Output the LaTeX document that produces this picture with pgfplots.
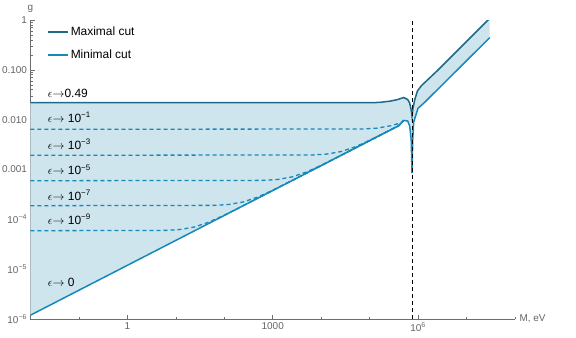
\documentclass[border=0pt]{standalone}
\usepackage{fontspec}
\setmainfont{Liberation Sans}
\usepackage{pgfplots}
\pgfplotsset{compat=1.18}

\definecolor{maxc}{RGB}{30,105,135}
\definecolor{minc}{RGB}{22,136,186}
\definecolor{bandc}{RGB}{206,229,238}
\definecolor{axc}{RGB}{110,110,110}
\definecolor{tickc}{RGB}{100,100,100}

\begin{document}
\begin{tikzpicture}
\begin{loglogaxis}[
    at={(30.5bp,18.9bp)}, anchor=south west,
    scale only axis, width=484.5bp, height=299.1bp,
    xmin=1e-2, xmax=1e8, ymin=1e-6, ymax=1,
    axis lines=left,
    axis line style={-, axc, line width=0.8bp},
    tick align=inside,
    major tick length=4.5bp, minor tick length=2.5bp,
    tick style={axc, line width=0.6bp},
    xtick={1,1e3,1e6},
    xticklabels={1,1000,10\textsuperscript{6}},
    minor xtick={1e-2,1e-1,1e1,1e2,1e4,1e5,1e7,1e8},
    ytick={1e-6,1e-5,1e-4,1e-3,1e-2,1e-1,1},
    yticklabels={10\textsuperscript{−6},10\textsuperscript{−5},10\textsuperscript{−4},0.001,0.010,0.100,1},
    minor ytick={2e-6,3e-6,4e-6,5e-6,6e-6,7e-6,8e-6,9e-6,
                 2e-5,3e-5,4e-5,5e-5,6e-5,7e-5,8e-5,9e-5,
                 2e-4,3e-4,4e-4,5e-4,6e-4,7e-4,8e-4,9e-4,
                 2e-3,3e-3,4e-3,5e-3,6e-3,7e-3,8e-3,9e-3,
                 2e-2,3e-2,4e-2,5e-2,6e-2,7e-2,8e-2,9e-2,
                 0.2,0.3,0.4,0.5,0.6,0.7,0.8,0.9},
    ticklabel style={font=\fontsize{10}{12}\selectfont, text=tickc},
    xlabel={M, eV}, ylabel={g},
    xlabel style={at={(axis description cs:1,0)}, anchor=west, xshift=1bp,
        font=\fontsize{10}{12}\selectfont, text=tickc},
    ylabel style={at={(axis description cs:0,1)}, anchor=south, rotate=-90, yshift=4bp,
        font=\fontsize{10}{12}\selectfont, text=tickc},
    legend style={at={(axis description cs:0.028,0.988)}, anchor=north west,
        draw=none, fill=none, font=\fontsize{12}{14}\selectfont,
        row sep=9bp, nodes={inner sep=1.5bp}},
    legend cell align=left,
    legend image code/.code={\draw[#1, line width=2bp] (0bp,0bp) -- (20bp,0bp);},
]

% band between the two cuts
\addplot[fill=bandc, draw=none, forget plot] coordinates {
    (1e-2,2.193e-2) (1e5,2.193e-2) (1.611e5,2.223e-2) (2.594e5,2.350e-2)
    (3.614e5,2.506e-2) (5.047e5,2.786e-2) (6.095e5,2.541e-2) (6.699e5,2.163e-2)
    (7.211e5,1.566e-2) (7.482e5,1.186e-2) (7.852e5,1.718e-2) (8.511e5,2.483e-2)
    (9.683e5,3.767e-2) (1.169e6,4.808e-2) (2.576e6,9.931e-2) (2.773e7,1.0)
    (3.006e7,1.081)
    (3.006e7,0.4416) (1.368e6,2.234e-2) (9.954e5,1.694e-2)
    (8.110e5,8.995e-3) (7.745e5,3.917e-3) (7.482e5,8.53e-4) (7.211e5,3.917e-3)
    (6.699e5,7.48e-3) (6.095e5,9.419e-3) (5.047e5,9.638e-3) (3.981e5,7.57e-3)
    (1e-2,1.2e-6)
} -- cycle;

% intermediate cuts
\addplot[minc, line width=1.3bp, dash pattern=on 4bp off 3bp, forget plot] coordinates {
    (1e-2,6.412e-3) (7.178e4,6.510e-3) (1.432e5,6.781e-3) (2.858e5,7.626e-3)
    (4.529e5,8.777e-3) (5.047e5,9.638e-3)
};
\addplot[minc, line width=1.3bp, dash pattern=on 4bp off 3bp, forget plot] coordinates {
    (1e-2,1.932e-3) (6516,1.962e-3) (1.300e4,2.043e-3) (2.594e4,2.298e-3)
    (5.176e4,2.886e-3) (1.033e5,3.914e-3) (2.594e5,6.125e-3) (3.981e5,7.60e-3)
    (5.047e5,9.638e-3)
};
\addplot[minc, line width=1.3bp, dash pattern=on 4bp off 3bp, forget plot] coordinates {
    (1e-2,5.970e-4) (622.3,6.062e-4) (1242,6.314e-4) (2477,7.101e-4)
    (4943,8.918e-4) (9863,1.210e-3) (2.477e4,1.893e-3) (3.981e5,7.60e-3)
    (5.047e5,9.638e-3)
};
\addplot[minc, line width=1.3bp, dash pattern=on 4bp off 3bp, forget plot] coordinates {
    (1e-2,1.884e-4) (61.94,1.912e-4) (123.6,1.992e-4) (246.6,2.240e-4)
    (492.0,2.813e-4) (981.7,3.817e-4) (2466,5.972e-4) (3.981e5,7.60e-3)
    (5.047e5,9.638e-3)
};
\addplot[minc, line width=1.3bp, dash pattern=on 4bp off 3bp, forget plot] coordinates {
    (1e-2,5.929e-5) (6.138,6.020e-5) (12.25,6.270e-5) (24.43,7.053e-5)
    (48.75,8.856e-5) (97.27,1.201e-4) (244.3,1.880e-4) (3.981e5,7.60e-3)
    (5.047e5,9.638e-3)
};

% maximal cut
\addplot[maxc, line width=1.5bp] coordinates {
    (1e-2,2.193e-2) (1e5,2.193e-2) (1.611e5,2.223e-2) (2.594e5,2.350e-2)
    (3.614e5,2.506e-2) (5.047e5,2.786e-2) (6.095e5,2.541e-2) (6.699e5,2.163e-2)
    (7.211e5,1.566e-2) (7.482e5,1.186e-2) (7.852e5,1.718e-2) (8.511e5,2.483e-2)
    (9.683e5,3.767e-2) (1.169e6,4.808e-2) (2.576e6,9.931e-2) (2.773e7,1.0)
    (3.006e7,1.081)
};
\addlegendentry{Maximal cut}

% minimal cut
\addplot[minc, line width=1.5bp] coordinates {
    (1e-2,1.2e-6) (3.981e5,7.57e-3) (5.047e5,9.638e-3) (6.095e5,9.419e-3)
    (6.699e5,7.48e-3) (7.211e5,3.917e-3) (7.482e5,8.53e-4) (7.745e5,3.917e-3)
    (8.110e5,8.995e-3) (9.954e5,1.694e-2) (1.368e6,2.234e-2) (3.006e7,0.4416)
};
\addlegendentry{Minimal cut}

% threshold
\addplot[black, line width=0.9bp, dash pattern=on 4bp off 3bp, forget plot] coordinates {
    (7.48e5,1e-6) (7.48e5,1)
};

\begin{scope}[every node/.style={anchor=base west, inner sep=0pt, font=\fontsize{12}{14}\selectfont}]
\node at (axis cs:0.0226,2.787e-2) {$\epsilon$$\to$0.49};
\node at (axis cs:0.0226,8.99e-3) {$\epsilon$$\to$ 10\textsuperscript{−1}};
\node at (axis cs:0.0226,2.58e-3) {$\epsilon$$\to$ 10\textsuperscript{−3}};
\node at (axis cs:0.0226,7.78e-4) {$\epsilon$$\to$ 10\textsuperscript{−5}};
\node at (axis cs:0.0226,2.45e-4) {$\epsilon$$\to$ 10\textsuperscript{−7}};
\node at (axis cs:0.0226,7.98e-5) {$\epsilon$$\to$ 10\textsuperscript{−9}};
\node at (axis cs:0.0226,4.47e-6) {$\epsilon$$\to$ 0};
\end{scope}
\end{loglogaxis}
\pgfresetboundingbox
\path (0bp,0bp) rectangle (576bp,338bp);
\end{tikzpicture}
\end{document}
